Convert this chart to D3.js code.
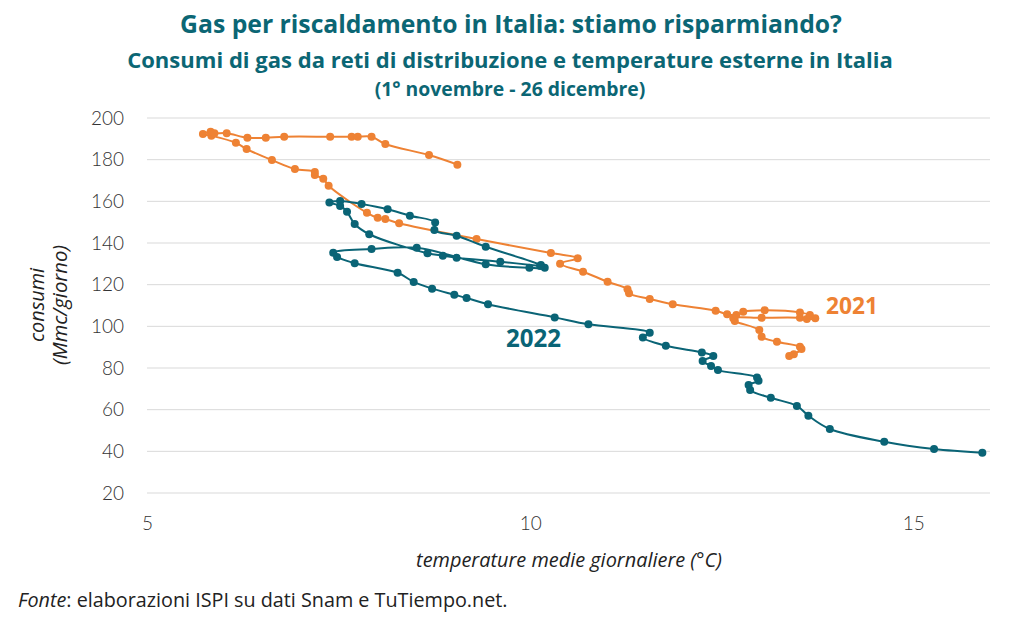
<!DOCTYPE html>
<html>
<head>
<meta charset="utf-8">
<script src="https://cdn.jsdelivr.net/npm/d3@7"></script>
<style>
  body { margin: 0; background: #fff; }
  svg { display: block; font-family: "Open Sans", Lato, sans-serif; }
</style>
</head>
<body>
<svg id="chart" width="1020" height="620"></svg>
<script>
// ---- Data ----
const xTicks = [5, 10, 15];
const yTicks = [20, 40, 60, 80, 100, 120, 140, 160, 180, 200];

// 2022 (teal): temperature (°C) and consumption (Mmc/giorno), in time order
const temp2022 = [15.90, 15.27, 14.62, 13.91, 13.63, 13.48, 13.14, 12.87, 12.85, 12.98,
  12.96, 12.45, 12.36, 12.25, 12.39, 12.24, 11.77, 11.47, 11.56, 10.76,
  10.32, 9.45, 9.17, 9.01, 8.72, 8.48, 8.27, 7.71, 7.48, 7.43,
  7.93, 8.52, 9.42, 9.99, 10.19, 10.14, 9.42, 9.04, 8.75, 8.76,
  8.43, 8.14, 7.80, 7.52, 7.38, 7.52, 7.61, 7.71, 7.90, 8.66,
  8.86, 9.04, 9.61, 10.13];
const gas2022 = [39.3, 41.1, 44.6, 50.7, 57.1, 61.8, 65.7, 69.4, 71.8, 73.9,
  75.5, 79.0, 81.0, 83.4, 85.8, 87.5, 90.7, 94.7, 96.9, 101.0,
  104.3, 110.6, 113.6, 115.2, 118.1, 121.3, 125.7, 130.3, 133.3, 135.3,
  137.1, 137.7, 129.8, 128.1, 128.1, 129.4, 138.2, 143.5, 146.2, 149.9,
  153.1, 156.2, 158.7, 160.2, 159.5, 157.8, 155.0, 149.1, 144.2, 135.1,
  133.9, 132.9, 131.0, 129.0];

// 2021 (orange)
const temp2021 = [13.38, 13.44, 13.54, 13.52, 13.22, 13.02, 12.99, 12.67, 12.65, 13.02,
  13.52, 13.61, 13.72, 13.65, 13.52, 13.06, 12.78, 12.69, 12.57, 12.42,
  11.86, 11.56, 11.29, 11.27, 11.01, 10.69, 10.39, 10.62, 10.27, 9.30,
  8.29, 8.11, 8.01, 7.87, 7.37, 7.30, 7.19, 7.19, 6.93, 6.63,
  6.30, 6.16, 5.84, 5.73, 5.83, 5.88, 6.04, 6.31, 6.55, 6.79,
  7.39, 7.67, 7.75, 7.93, 8.11, 8.68, 9.05];
const gas2021 = [85.8, 86.6, 89.1, 90.2, 92.6, 95.0, 98.2, 102.6, 103.9, 104.1,
  104.1, 103.5, 103.9, 105.4, 106.7, 107.7, 107.0, 105.4, 105.8, 107.5,
  110.6, 113.1, 115.9, 117.8, 121.4, 126.2, 130.1, 132.7, 135.2, 141.9,
  149.5, 151.5, 152.1, 154.5, 167.5, 170.9, 172.6, 174.1, 175.5, 179.8,
  185.1, 188.1, 191.5, 192.3, 193.4, 192.7, 192.7, 190.5, 190.5, 191.0,
  191.0, 191.0, 191.0, 191.0, 187.5, 182.2, 177.6];

const seriesNames = ["2021", "2022"];
const colors = { "2021": "#EE8234", "2022": "#0A6476" };

// ---- Layout ----
const svg = d3.select("#chart");
const x = d3.scaleLinear().domain([5, 16]).range([147, 990]);
const y = d3.scaleLinear().domain([20, 200]).range([493, 118]);

// scale a text's font size so its rendered width matches the reference width
function fit(sel, width) {
  const fs = parseFloat(sel.attr("font-size"));
  const w = sel.node().getComputedTextLength();
  if (w > 0) sel.attr("font-size", (fs * width / w).toFixed(2));
  return sel;
}

const titleColor = "#0B6674";
fit(svg.append("text").attr("x", 511).attr("y", 33).attr("text-anchor", "middle")
  .attr("font-size", 22).attr("font-weight", 700).attr("fill", titleColor)
  .text("Gas per riscaldamento in Italia: stiamo risparmiando?"), 662);
fit(svg.append("text").attr("x", 510).attr("y", 68).attr("text-anchor", "middle")
  .attr("font-size", 19).attr("font-weight", 700).attr("fill", titleColor)
  .text("Consumi di gas da reti di distribuzione e temperature esterne in Italia"), 766);
fit(svg.append("text").attr("x", 510).attr("y", 96).attr("text-anchor", "middle")
  .attr("font-size", 16).attr("font-weight", 700).attr("fill", titleColor)
  .text("(1° novembre - 26 dicembre)"), 271);

// gridlines
const grid = svg.append("g");
grid.selectAll("line").data(yTicks).join("line")
  .attr("x1", x(5)).attr("x2", x(16))
  .attr("y1", d => y(d)).attr("y2", d => y(d))
  .attr("stroke", "#d9d9d9").attr("stroke-width", 1);

// axes
const yAxis = d3.axisLeft(y).tickValues(yTicks).tickSize(0).tickPadding(23);
const gy = svg.append("g").attr("transform", `translate(${x(5)},0)`).call(yAxis);
gy.select(".domain").remove();
gy.selectAll("text").attr("font-size", 19).attr("fill", "#333").attr("font-weight", 300)
  .attr("font-family", "Lato, sans-serif");

const xAxis = d3.axisBottom(x).tickValues(xTicks).tickSize(0).tickPadding(24);
const gx = svg.append("g").attr("transform", `translate(0,${y(20)})`).call(xAxis);
gx.select(".domain").remove();
gx.selectAll("text").attr("font-size", 19).attr("fill", "#333").attr("font-weight", 300)
  .attr("font-family", "Lato, sans-serif");

// axis titles
fit(svg.append("text").attr("transform", "translate(44,305) rotate(-90)")
  .attr("text-anchor", "middle").attr("font-size", 17).attr("font-style", "italic")
  .attr("fill", "#222").text("consumi"), 74);
fit(svg.append("text").attr("transform", "translate(67,305) rotate(-90)")
  .attr("text-anchor", "middle").attr("font-size", 17).attr("font-style", "italic")
  .attr("fill", "#222").text("(Mmc/giorno)"), 120);
fit(svg.append("text").attr("x", 569).attr("y", 567).attr("text-anchor", "middle")
  .attr("font-size", 17).attr("font-style", "italic").attr("fill", "#222")
  .text("temperature medie giornaliere (°C)"), 306);

const src = svg.append("text").attr("x", 18).attr("y", 607).attr("font-size", 17).attr("fill", "#222");
src.append("tspan").attr("font-style", "italic").text("Fonte");
src.append("tspan").text(": elaborazioni ISPI su dati Snam e TuTiempo.net.");
fit(src, 490);

// series
const data = {
  "2021": temp2021.map((t, i) => ({ t, g: gas2021[i] })),
  "2022": temp2022.map((t, i) => ({ t, g: gas2022[i] }))
};
const line = d3.line().x(d => x(d.t)).y(d => y(d.g)).curve(d3.curveCatmullRom.alpha(0.5));

seriesNames.forEach(name => {
  const g = svg.append("g");
  g.append("path").datum(data[name]).attr("d", line)
    .attr("fill", "none").attr("stroke", colors[name]).attr("stroke-width", 2);
  g.selectAll("circle").data(data[name]).join("circle")
    .attr("cx", d => x(d.t)).attr("cy", d => y(d.g)).attr("r", 4)
    .attr("fill", colors[name]);
});

// series labels
fit(svg.append("text").attr("x", 826).attr("y", 314).attr("font-size", 21).attr("font-weight", 700)
  .attr("fill", colors["2021"]).text("2021"), 52);
fit(svg.append("text").attr("x", 506).attr("y", 347).attr("font-size", 21).attr("font-weight", 700)
  .attr("fill", colors["2022"]).text("2022"), 55);
</script>
</body>
</html>
